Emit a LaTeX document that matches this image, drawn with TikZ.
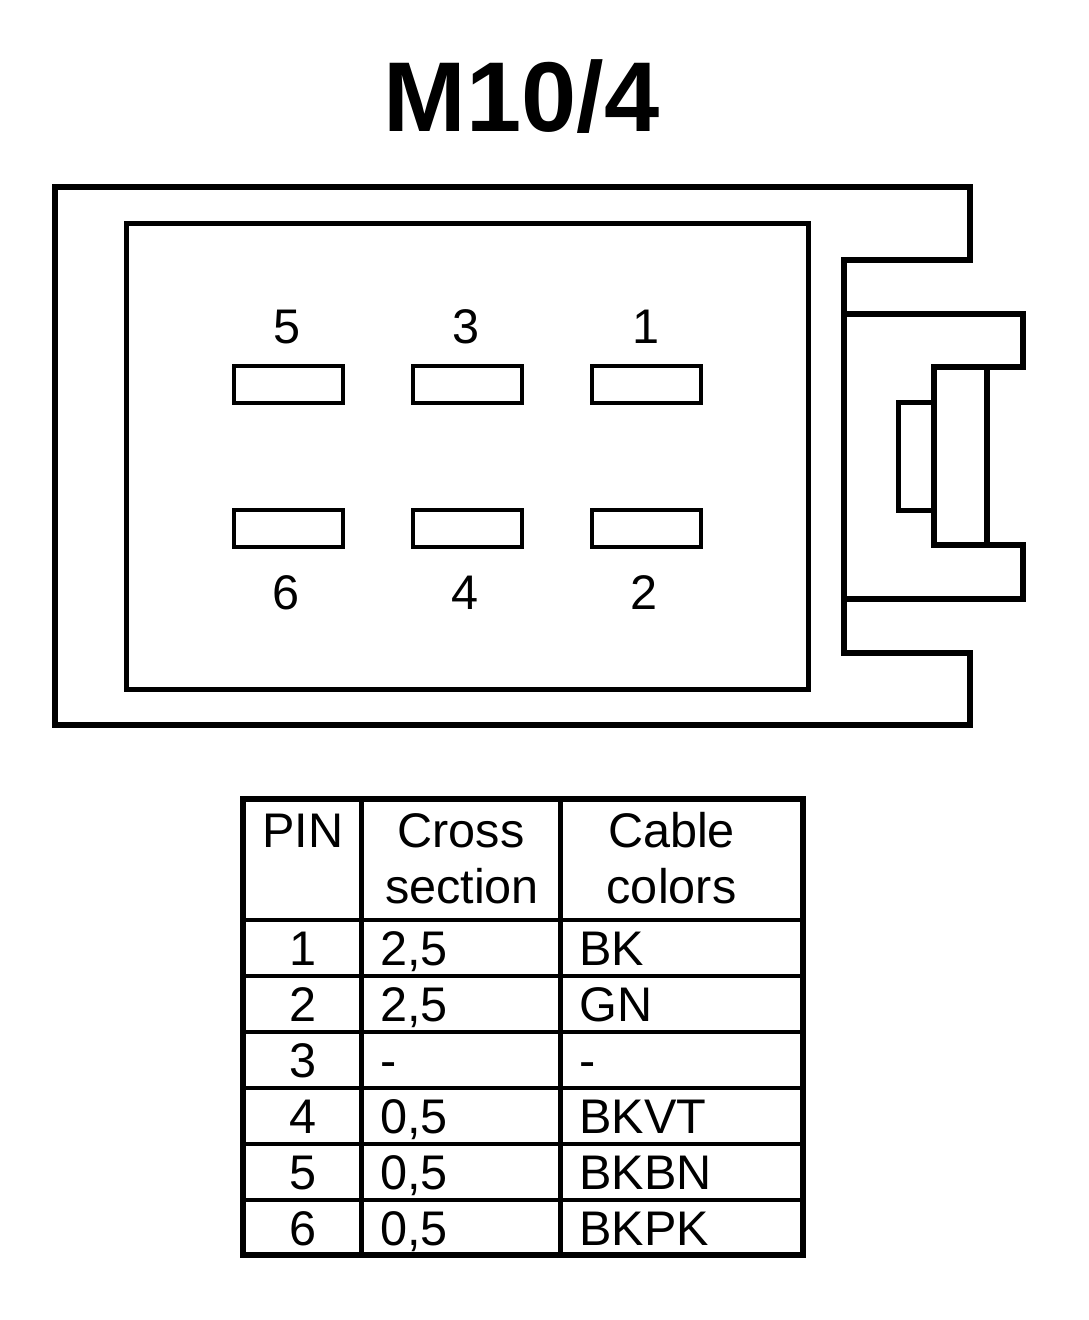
\documentclass[tikz,border=0pt]{standalone}
\usepackage{fontspec}
\setmainfont{Liberation Sans}
\tikzset{
  heavy/.style={draw=black, line width=3pt, line join=miter},
  medium/.style={draw=black, line width=2.5pt, line join=miter},
  thin line/.style={draw=black, line width=2pt},
  pinbox/.style={draw=black, line width=2.25pt, minimum width=54.5pt, minimum height=18.5pt, inner sep=0pt, outer sep=0pt},
  lab/.style={font=\fontsize{24.3}{24.3}\selectfont, anchor=base, inner sep=0pt},
  labl/.style={font=\fontsize{24.3}{24.3}\selectfont, anchor=base west, inner sep=0pt}
}
\begin{document}
\begin{tikzpicture}[x=0.5pt, y=-0.5pt]
  \useasboundingbox (0, 0) rectangle (1088, 1320);
  \node [anchor=base, inner sep=0pt, font=\fontsize{49.6}{50}\selectfont\bfseries] (title) at (521.5, 132) {M10/4};

  % housing
  \draw [heavy] (970, 187) -- (55, 187) -- (55, 725) -- (970, 725) -- (970, 653) -- (844, 653) -- (844, 260) -- (970, 260) -- cycle;
  \draw [medium] (126, 224) rectangle (808, 689);
  % latch
  \draw [heavy] (844, 314) -- (1023, 314) -- (1023, 367) -- (934, 367) -- (934, 545) -- (1023, 545) -- (1023, 599) -- (844, 599);
  \draw [heavy] (987, 367) -- (987, 545);
  \draw [thin line, line width=2.5pt] (934, 403) -- (898, 403) -- (898, 510) -- (934, 510);

  % pins
  \foreach \n/\px/\tx in {5/288.5/287, 3/467.5/466, 1/646.5/646} {
    \node [pinbox] (pin\n) at (\px, 384.5) {};
    \node [lab] (num\n) at (\tx, 343.5) {\n};
  }
  \foreach \n/\px/\tx in {6/288.5/286, 4/467.5/465, 2/646.5/644.5} {
    \node [pinbox] (pin\n) at (\px, 528.5) {};
    \node [lab] (num\n) at (\tx, 609) {\n};
  }

  % table
  \draw [heavy] (243, 799) rectangle (803, 1255);
  \draw [thin line, line width=2.5pt] (361.5, 799) -- (361.5, 1255);
  \draw [thin line, line width=2.5pt] (560.5, 799) -- (560.5, 1255);
  \foreach \ry in {920, 976, 1032, 1088, 1144, 1200} {
    \draw [thin line] (243, \ry) -- (803, \ry);
  }
  \node [lab] (headpin) at (303, 847) {PIN};
  \node [lab] (headcross) at (461, 847) {Cross};
  \node [lab] (headsection) at (462, 903) {section};
  \node [lab] (headcable) at (671.5, 847) {Cable};
  \node [lab] (headcolors) at (671.5, 903) {colors};

  \foreach \n/\by/\cs/\col in {1/965/{2,5}/BK, 2/1021/{2,5}/GN, 3/1077/-/-, 4/1133/{0,5}/BKVT, 5/1189/{0,5}/BKBN, 6/1245/{0,5}/BKPK} {
    \node [lab] (row\n) at (303, \by) {\n};
    \node [labl] (cs\n) at (380, \by) {\cs};
    \node [labl] (col\n) at (579, \by) {\col};
  }
\end{tikzpicture}
\end{document}
